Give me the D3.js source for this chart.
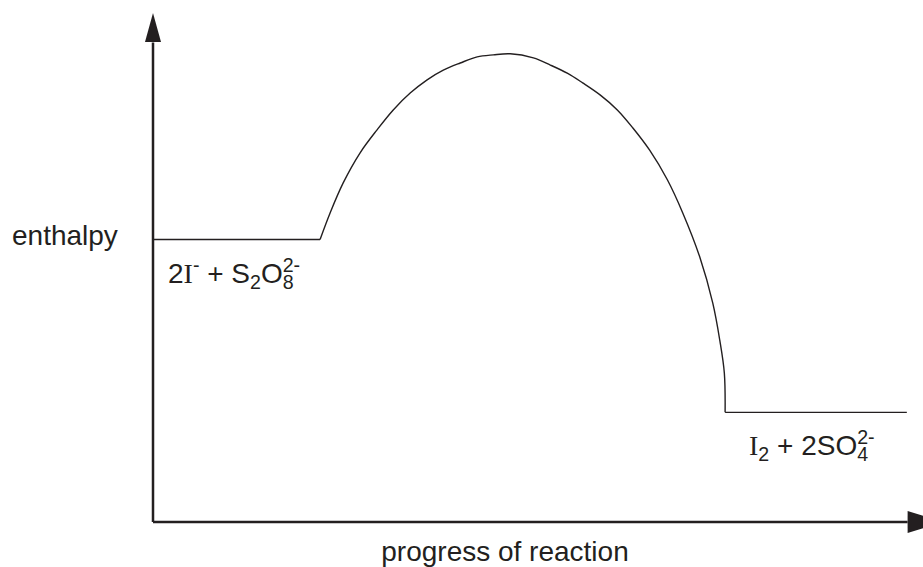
<!DOCTYPE html>
<html>
<head>
<meta charset="utf-8">
<script src="https://cdn.jsdelivr.net/npm/d3@7"></script>
<style>
  body { margin: 0; background: #fff; }
  text { font-family: "Liberation Sans", Arial, sans-serif; fill: #231f20; }
</style>
</head>
<body>
<svg id="chart" width="923" height="567"></svg>
<script>
// enthalpy profile, progress (0-100) vs enthalpy (0-100)
const reactantLevel = [[0, 55.4], [21.7, 55.4]];
const productLevel = [[74.3, 21.5], [97.9, 21.5]];
const barrierProgress = [21.7, 23.0, 24.7, 26.9, 29.1, 31.2, 33.4, 35.6, 37.7, 39.9, 42.1, 44.2, 46.4,
  49.4, 51.6, 53.8, 55.8, 58.1, 60.3, 62.3, 64.5, 66.8, 68.8, 71.0, 72.7, 73.6, 74.2, 74.3];
const barrierEnthalpy = [55.4, 60.6, 66.5, 72.4, 76.9, 80.8, 84.1, 86.7, 88.6, 90.0, 91.2, 91.6, 91.8,
  91.0, 89.6, 88.0, 86.1, 83.7, 80.8, 77.3, 72.9, 67.1, 60.6, 52.0, 42.9, 35.7, 29.2, 21.5];

const svg = d3.select("#chart");

const x = d3.scaleLinear().domain([0, 100]).range([153, 923]);
const y = d3.scaleLinear().domain([0, 100]).range([522, 12]);

// axes with arrowheads
svg.append("line")
  .attr("x1", x(0)).attr("y1", y(0)).attr("x2", x(0)).attr("y2", y(94))
  .attr("stroke", "#231f20").attr("stroke-width", 2.5);
svg.append("line")
  .attr("x1", x(0)).attr("y1", y(0)).attr("x2", x(98)).attr("y2", y(0))
  .attr("stroke", "#231f20").attr("stroke-width", 2.5);

const yTip = [x(0), y(100) + 1];
svg.append("path")
  .attr("d", `M${yTip[0]},${yTip[1]} L${yTip[0] - 8},${yTip[1] + 29} L${yTip[0] + 8},${yTip[1] + 29} Z`)
  .attr("fill", "#231f20");
const xBase = x(98);
svg.append("path")
  .attr("d", `M${xBase},${y(0) - 11} L${xBase + 36},${y(0)} L${xBase},${y(0) + 11} Z`)
  .attr("fill", "#231f20");

const flat = d3.line().x(d => x(d[0])).y(d => y(d[1]));
const curve = d3.line().x(d => x(d[0])).y(d => y(d[1])).curve(d3.curveCatmullRom.alpha(0.5));

[reactantLevel, productLevel].forEach(lvl => {
  svg.append("path").attr("d", flat(lvl))
    .attr("fill", "none").attr("stroke", "#231f20").attr("stroke-width", 1.4);
});

svg.append("path")
  .attr("d", curve(barrierProgress.map((p, i) => [p, barrierEnthalpy[i]])))
  .attr("fill", "none").attr("stroke", "#231f20").attr("stroke-width", 1.4);

// labels
const fs = 28;
const small = fs * 0.7;
svg.append("text").attr("x", 12).attr("y", 245).attr("font-size", fs).text("enthalpy");
svg.append("text").attr("x", 505).attr("y", 561).attr("text-anchor", "middle")
  .attr("font-size", fs).text("progress of reaction");

const serif = "Liberation Serif, Times New Roman, serif";

// 2I- + S2O8 2-
const left = svg.append("text").attr("x", 168).attr("y", 283).attr("font-size", fs);
left.append("tspan").text("2");
left.append("tspan").attr("font-family", serif).text("I");
left.append("tspan").attr("font-size", small).attr("dy", -11).text("-");
left.append("tspan").attr("dy", 11).text(" + S");
left.append("tspan").attr("font-size", small).attr("dy", 6).text("2");
left.append("tspan").attr("dy", -6).text("O");
const leftO = left.node().getComputedTextLength();
left.append("tspan").attr("x", 168 + leftO).attr("dy", 6).attr("font-size", small).text("8");
left.append("tspan").attr("x", 168 + leftO).attr("dy", -17).attr("font-size", small).text("2-");

// I2 + 2SO4 2-
const right = svg.append("text").attr("x", 749).attr("y", 455).attr("font-size", fs);
right.append("tspan").attr("font-family", serif).text("I");
right.append("tspan").attr("font-size", small).attr("dy", 6).text("2");
right.append("tspan").attr("dy", -6).text(" + 2SO");
const rightO = right.node().getComputedTextLength();
right.append("tspan").attr("x", 749 + rightO).attr("dy", 6).attr("font-size", small).text("4");
right.append("tspan").attr("x", 749 + rightO).attr("dy", -17).attr("font-size", small).text("2-");
</script>
</body>
</html>
